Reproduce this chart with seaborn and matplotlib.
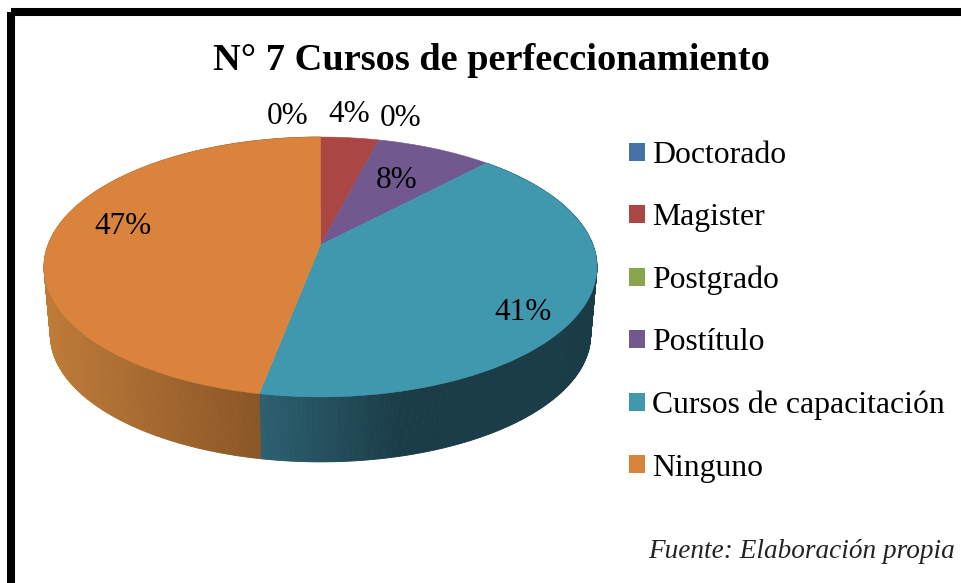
import numpy as np
import matplotlib
matplotlib.use('Agg')
import matplotlib.pyplot as plt
from matplotlib.patches import Patch, Rectangle
from matplotlib.transforms import Transform
import seaborn as sns

# Data
categories = ['Doctorado', 'Magister', 'Postgrado', 'Postítulo',
              'Cursos de capacitación', 'Ninguno']
values = [0, 4, 0, 8, 41, 47]
slice_colors = ['#4572A7', '#AA4643', '#89A54E', '#71588F', '#4098AF', '#DA833C']
title = 'N° 7 Cursos de perfeccionamiento'
source = 'Fuente: Elaboración propia'

# Pixel positions of the percent labels, same order as values
label_xy = [(288, 117), (349, 115), (401, 119), (397, 180), (523, 313), (123, 227)]

# Wall shading, left to right on screen
wall_orange = ['#BE7B38', '#8A5526']
wall_teal = ['#2C6070', '#1A3C47']

# Perspective of the pie in pixel space
K = 0.169
A = -84.8
B = 245.0
CX = 320.5
C = 272.5
WALL_SCALE = 0.977
WALL_CY = 335.0
TOP_CY = 267.0


def project(x, y):
    """Unit circle -> top face of the pie, in pixels."""
    d = 1 + K * y
    return CX + C * x / d, (A * y + B) / d


def project_floor(x, y):
    """Unit circle -> bottom rim of the pie, in pixels."""
    px, py = project(x, y)
    return CX + (px - CX) * WALL_SCALE, WALL_CY + (py - TOP_CY) * WALL_SCALE


class PieTilt(Transform):
    input_dims = 2
    output_dims = 2
    is_separable = False
    has_inverse = False

    def transform_non_affine(self, values):
        values = np.asarray(values)
        px, py = project(values[:, 0], values[:, 1])
        return np.column_stack([px, py])


def draw_wall(ax, theta1, theta2, shades, x0, x1):
    """Side wall of one slice as thin strips, theta in degrees of the pie."""
    steps = max(int(theta2 - theta1) * 2, 2)
    angles = np.radians(np.linspace(theta1, theta2, steps + 1))
    pal = sns.blend_palette(shades, 64)
    for a, b in zip(angles[:-1], angles[1:]):
        tx, ty = project(np.array([np.cos(a), np.cos(b)]), np.array([np.sin(a), np.sin(b)]))
        fx, fy = project_floor(np.array([np.cos(b), np.cos(a)]), np.array([np.sin(b), np.sin(a)]))
        t = np.clip((tx.mean() - x0) / (x1 - x0), 0, 1)
        col = pal[int(t * 63)]
        ax.fill(np.r_[tx, fx], np.r_[ty, fy], color=col, lw=0.6, zorder=1)


sns.set_theme(style='white')
plt.rcParams['font.family'] = ['Liberation Serif', 'DejaVu Serif']
plt.rcParams['text.color'] = 'black'

fig = plt.figure(figsize=(9.61, 5.83), dpi=100, facecolor='white')
ax = fig.add_axes([0, 0, 1, 1])

palette = sns.color_palette(slice_colors)
wedges, _ = ax.pie(values, colors=palette, startangle=90, counterclock=False,
                   radius=1, wedgeprops={'linewidth': 0})

# walls go under the top face
for w, name in zip(wedges, categories):
    if name == 'Ninguno':
        draw_wall(ax, w.theta1, w.theta2, wall_orange, 44, 260)
    elif name == 'Cursos de capacitación':
        draw_wall(ax, w.theta1, w.theta2, wall_teal, 260, 400)

tilt = PieTilt()
for w, c, v in zip(wedges, palette, values):
    w.set_transform(tilt + ax.transData)
    w.set_zorder(2)
    if v > 0:
        w.set_edgecolor(c)
        w.set_linewidth(0.4)

ax.set_aspect('auto')
ax.set_xlim(0, 961)
ax.set_ylim(583, 0)
ax.axis('off')

for v, (x, y) in zip(values, label_xy):
    ax.text(x, y, f'{v}%', fontsize=22.5, color='black', ha='center', va='center', zorder=3)

ax.text(491, 61, title, fontsize=27.6, fontweight='bold', color='black',
        ha='center', va='center')
ax.text(955, 551, source, fontsize=19.6, style='italic', color='#222222',
        ha='right', va='center')

handles = [Patch(facecolor=c, edgecolor='none', label=n) for c, n in zip(palette, categories)]
ax.legend(handles=handles, loc='upper left', bbox_to_anchor=(629, 141),
          bbox_transform=ax.transData, frameon=False, fontsize=22.85,
          handlelength=0.5, handleheight=0.5, handletextpad=0.22,
          labelspacing=1.05, borderpad=0, borderaxespad=0)

# black frame, runs off the right and bottom edges
ax.add_patch(Rectangle((11, 12), 1000, 600, fill=False, edgecolor='black',
                       linewidth=5.8, joinstyle='miter', zorder=5))

fig.savefig('out.png', dpi=100, facecolor='white')
plt.close(fig)
